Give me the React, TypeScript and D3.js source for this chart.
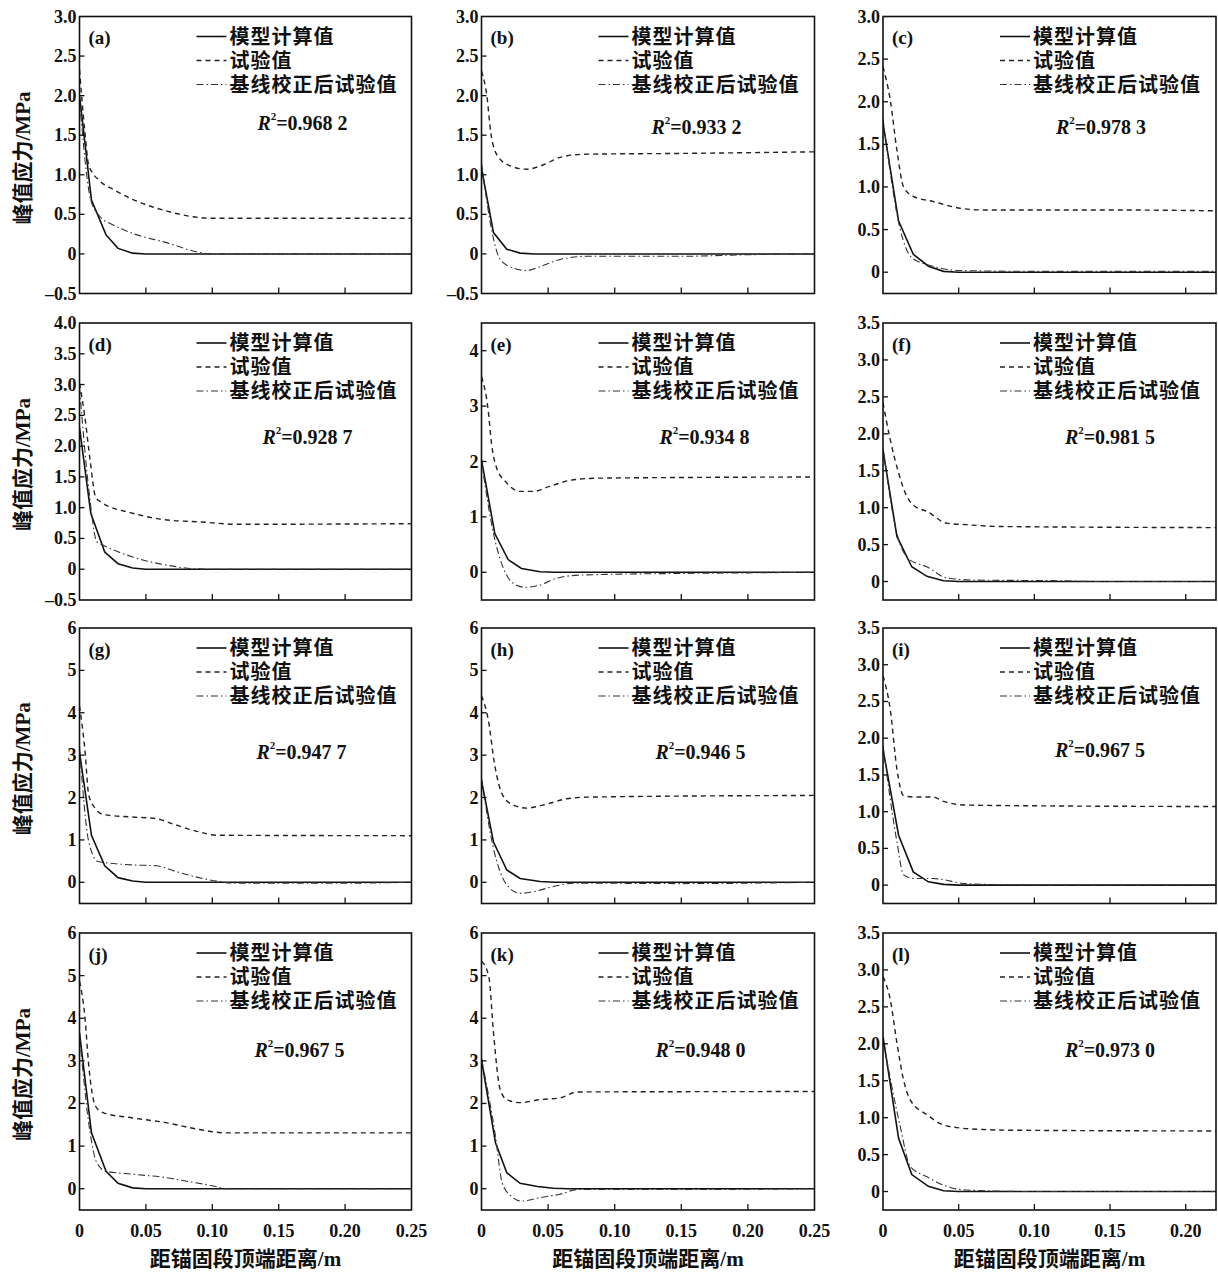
import React from "react";
import * as d3 from "d3";

// ---------- data ----------
const panelLabels = ["(a)", "(b)", "(c)", "(d)", "(e)", "(f)", "(g)", "(h)", "(i)", "(j)", "(k)", "(l)"];
const r2Values = ["0.968 2", "0.933 2", "0.978 3", "0.928 7", "0.934 8", "0.981 5", "0.947 7", "0.946 5", "0.967 5", "0.967 5", "0.948 0", "0.973 0"];
const legendLabels = ["模型计算值", "试验值", "基线校正后试验值"];
const xAxisTitle = "距锚固段顶端距离/m";
const yAxisTitle = "峰值应力/MPa";

const yDomains: [number, number][] = [
  [-0.5, 3], [-0.5, 3], [-0.25, 3],
  [-0.5, 4], [-0.5, 4.5], [-0.25, 3.5],
  [-0.5, 6], [-0.5, 6], [-0.25, 3.5],
  [-0.5, 6], [-0.5, 6], [-0.25, 3.5],
];
const yTicksHalf30 = [-0.5, 0, 0.5, 1, 1.5, 2, 2.5, 3];
const yTicksHalf30c = [0, 0.5, 1, 1.5, 2, 2.5, 3];
const yTicksHalf40 = [-0.5, 0, 0.5, 1, 1.5, 2, 2.5, 3, 3.5, 4];
const yTicksInt4 = [0, 1, 2, 3, 4];
const yTicksHalf35 = [0, 0.5, 1, 1.5, 2, 2.5, 3, 3.5];
const yTicksInt6 = [0, 1, 2, 3, 4, 5, 6];
const yTickSets = [
  yTicksHalf30, yTicksHalf30, yTicksHalf30c,
  yTicksHalf40, yTicksInt4, yTicksHalf35,
  yTicksInt6, yTicksInt6, yTicksHalf35,
  yTicksInt6, yTicksInt6, yTicksHalf35,
];
const xMaxByCol = [0.25, 0.25, 0.22];
const xTicksByCol = [
  [0, 0.05, 0.1, 0.15, 0.2, 0.25],
  [0, 0.05, 0.1, 0.15, 0.2, 0.25],
  [0, 0.05, 0.1, 0.15, 0.2],
];

const modelA = [[0, 2.0], [0.009, 0.68], [0.02, 0.24], [0.029, 0.07], [0.04, 0.01], [0.05, 0], [0.25, 0]];
const testA = [[0, 2.33], [0.004, 1.55], [0.007, 1.12], [0.0155, 0.92], [0.025, 0.82], [0.04, 0.69], [0.066, 0.54], [0.09, 0.46], [0.1, 0.45], [0.25, 0.45]];
const baseA = [[0, 1.95], [0.0085, 0.68], [0.0155, 0.47], [0.025, 0.37], [0.04, 0.26], [0.066, 0.14], [0.09, 0.02], [0.1, 0], [0.25, 0]];

const modelB = [[0, 1.08], [0.009, 0.27], [0.019, 0.06], [0.029, 0.01], [0.04, 0], [0.25, 0]];
const testB = [[0, 2.31], [0.004, 2.0], [0.007, 1.53], [0.012, 1.24], [0.022, 1.11], [0.034, 1.07], [0.047, 1.13], [0.059, 1.22], [0.077, 1.26], [0.15, 1.27], [0.25, 1.29]];
const baseB = [[0, 1.15], [0.008, 0.27], [0.014, -0.07], [0.024, -0.18], [0.034, -0.21], [0.044, -0.16], [0.059, -0.07], [0.079, -0.03], [0.15, -0.03], [0.2, -0.01], [0.25, 0]];

const modelC = [[0, 1.75], [0.0103, 0.6], [0.02, 0.21], [0.03, 0.07], [0.04, 0.01], [0.05, 0], [0.22, 0]];
const testC = [[0, 2.41], [0.0048, 2.02], [0.0092, 1.43], [0.0136, 1.0], [0.02, 0.89], [0.033, 0.83], [0.051, 0.75], [0.066, 0.73], [0.15, 0.73], [0.22, 0.72]];
const baseC = [[0, 1.8], [0.0114, 0.5], [0.019, 0.17], [0.033, 0.07], [0.051, 0.02], [0.1, 0.01], [0.22, 0.01]];

const modelD = [[0, 2.3], [0.0085, 0.91], [0.019, 0.28], [0.029, 0.09], [0.04, 0.02], [0.05, 0], [0.25, 0]];
const testD = [[0, 3.02], [0.004, 2.48], [0.008, 1.77], [0.012, 1.18], [0.0155, 1.1], [0.04, 0.91], [0.066, 0.8], [0.09, 0.77], [0.12, 0.73], [0.25, 0.74]];
const baseD = [[0, 2.95], [0.007, 1.3], [0.013, 0.45], [0.018, 0.39], [0.04, 0.2], [0.066, 0.065], [0.085, 0.01], [0.1, 0], [0.25, 0]];

const modelE = [[0, 2.03], [0.01, 0.7], [0.02, 0.23], [0.03, 0.07], [0.044, 0.01], [0.055, 0], [0.25, 0]];
const testE = [[0, 3.53], [0.005, 2.93], [0.0075, 2.33], [0.011, 1.91], [0.019, 1.61], [0.029, 1.46], [0.039, 1.46], [0.051, 1.55], [0.069, 1.67], [0.089, 1.7], [0.25, 1.72]];
const baseE = [[0, 2.0], [0.009, 0.7], [0.016, 0.1], [0.024, -0.2], [0.0325, -0.27], [0.044, -0.23], [0.056, -0.11], [0.074, -0.05], [0.15, -0.02], [0.2, -0.01], [0.25, 0]];

const modelF = [[0, 1.78], [0.0092, 0.61], [0.019, 0.2], [0.029, 0.07], [0.04, 0.01], [0.05, 0], [0.22, 0]];
const testF = [[0, 2.42], [0.0048, 1.92], [0.0103, 1.47], [0.0158, 1.15], [0.021, 1.02], [0.029, 0.95], [0.042, 0.79], [0.055, 0.77], [0.077, 0.745], [0.22, 0.73]];
const baseF = [[0, 1.8], [0.0092, 0.65], [0.018, 0.29], [0.029, 0.2], [0.042, 0.05], [0.06, 0.02], [0.12, 0.01], [0.14, 0], [0.22, 0]];

const modelG = [[0, 3.07], [0.009, 1.11], [0.019, 0.39], [0.029, 0.11], [0.04, 0.03], [0.05, 0], [0.25, 0]];
const testG = [[0, 4.16], [0.004, 3.15], [0.007, 2.05], [0.012, 1.74], [0.018, 1.6], [0.04, 1.54], [0.058, 1.5], [0.07, 1.38], [0.09, 1.19], [0.103, 1.11], [0.25, 1.1]];
const baseG = [[0, 3.2], [0.007, 0.95], [0.014, 0.49], [0.023, 0.45], [0.04, 0.41], [0.058, 0.39], [0.073, 0.25], [0.09, 0.11], [0.105, 0.02], [0.115, -0.02], [0.2, -0.02], [0.25, 0]];

const modelH = [[0, 2.4], [0.009, 0.95], [0.019, 0.29], [0.029, 0.09], [0.044, 0.02], [0.055, 0], [0.25, 0]];
const testH = [[0, 4.4], [0.005, 3.85], [0.01, 2.75], [0.016, 2.05], [0.024, 1.82], [0.034, 1.75], [0.046, 1.82], [0.064, 1.97], [0.079, 2.01], [0.25, 2.05]];
const baseH = [[0, 2.45], [0.009, 0.8], [0.019, -0.06], [0.029, -0.26], [0.039, -0.22], [0.054, -0.1], [0.069, -0.02], [0.15, -0.03], [0.25, 0]];

const modelI = [[0, 1.85], [0.0103, 0.68], [0.02, 0.18], [0.03, 0.045], [0.04, 0.01], [0.05, 0], [0.22, 0]];
const testI = [[0, 2.85], [0.0048, 2.39], [0.0092, 1.58], [0.0136, 1.22], [0.02, 1.2], [0.033, 1.2], [0.04, 1.14], [0.055, 1.09], [0.099, 1.08], [0.22, 1.07]];
const baseI = [[0, 1.9], [0.0092, 0.59], [0.0136, 0.14], [0.021, 0.09], [0.033, 0.09], [0.055, 0.02], [0.1, 0], [0.22, 0]];

const modelJ = [[0, 3.66], [0.009, 1.31], [0.02, 0.41], [0.029, 0.125], [0.04, 0.02], [0.05, 0], [0.25, 0]];
const testJ = [[0, 4.87], [0.004, 4.05], [0.007, 2.88], [0.012, 1.94], [0.018, 1.78], [0.04, 1.66], [0.065, 1.55], [0.09, 1.39], [0.11, 1.31], [0.25, 1.31]];
const baseJ = [[0, 3.6], [0.008, 1.31], [0.013, 0.61], [0.02, 0.41], [0.04, 0.34], [0.065, 0.26], [0.08, 0.18], [0.103, 0.05], [0.11, 0], [0.25, 0]];

const modelK = [[0, 3.03], [0.0105, 1.08], [0.019, 0.375], [0.029, 0.125], [0.042, 0.05], [0.054, 0.01], [0.065, 0], [0.25, 0]];
const testK = [[0, 5.34], [0.0055, 4.98], [0.009, 3.66], [0.014, 2.33], [0.019, 2.09], [0.029, 2.02], [0.044, 2.09], [0.059, 2.13], [0.072, 2.27], [0.25, 2.28]];
const baseK = [[0, 3.05], [0.0105, 1.23], [0.0155, 0.14], [0.022, -0.17], [0.03, -0.29], [0.044, -0.21], [0.059, -0.13], [0.072, -0.02], [0.15, -0.02], [0.25, 0]];

const modelL = [[0, 2.1], [0.0103, 0.72], [0.019, 0.23], [0.03, 0.07], [0.04, 0.01], [0.05, 0], [0.22, 0]];
const testL = [[0, 2.91], [0.0048, 2.6], [0.0092, 2.01], [0.0136, 1.51], [0.018, 1.24], [0.029, 1.04], [0.04, 0.9], [0.051, 0.86], [0.066, 0.84], [0.086, 0.83], [0.22, 0.82]];
const baseL = [[0, 2.05], [0.0114, 0.88], [0.018, 0.34], [0.029, 0.2], [0.042, 0.07], [0.055, 0.02], [0.1, 0], [0.22, 0]];

const modelSeries = [modelA, modelB, modelC, modelD, modelE, modelF, modelG, modelH, modelI, modelJ, modelK, modelL];
const testSeries = [testA, testB, testC, testD, testE, testF, testG, testH, testI, testJ, testK, testL];
const baseSeries = [baseA, baseB, baseC, baseD, baseE, baseF, baseG, baseH, baseI, baseJ, baseK, baseL];

// ---------- layout ----------
const W = 1218;
const H = 1275;
const colLeft = [79.5, 481.5, 883];
const colRight = [411.5, 814.5, 1216];
const rowTop = [16.5, 323, 628, 933];
const rowBottom = [293.5, 600, 903.5, 1210];
const r2OffsetY = [106, 110, 110, 114, 114, 114, 124, 124, 122, 117, 117, 117];
const r2OffsetX = [223, 215, 218, 228, 223, 227, 222, 219, 217, 220, 219, 227];

const NUM_FONT = "'Liberation Serif', 'Times New Roman', serif";
const MIX_FONT = "'Liberation Serif', 'Noto Sans CJK SC', serif";

const styles = {
  model: { dash: undefined as string | undefined, width: 1.6, color: "#111" },
  test: { dash: "5,4", width: 1.4, color: "#222" },
  base: { dash: "7,3,1.5,3", width: 1.1, color: "#333" },
};

function fmtY(v: number, intTicks: boolean) {
  if (v === 0) return "0";
  const s = intTicks ? String(Math.abs(v)) : Math.abs(v).toFixed(1);
  return (v < 0 ? "–" : "") + s;
}
function fmtX(v: number) {
  if (v === 0) return "0";
  return v.toFixed(2);
}

function Panel({ idx }: { idx: number }) {
  const row = Math.floor(idx / 3);
  const col = idx % 3;
  const L = colLeft[col];
  const R = colRight[col];
  const T = rowTop[row];
  const B = rowBottom[row];
  const x = d3.scaleLinear().domain([0, xMaxByCol[col]]).range([L, R]);
  const intTicks = yTickSets[idx].every((t) => Number.isInteger(t));
  const y = d3.scaleLinear().domain(yDomains[idx]).range([B, T]);
  const line = d3
    .line<number[]>()
    .x((d) => x(d[0]))
    .y((d) => y(d[1]))
    .curve(d3.curveMonotoneX);
  const lineLin = d3
    .line<number[]>()
    .x((d) => x(d[0]))
    .y((d) => y(d[1]));
  const clipId = `clip-${idx}`;
  const isBottom = row === 3;
  const legendYs = [T + 20, T + 44, T + 68];
  const seriesStyles = [styles.model, styles.test, styles.base];

  return (
    <g>
      <defs>
        <clipPath id={clipId}>
          <rect x={L} y={T} width={R - L} height={B - T} />
        </clipPath>
      </defs>
      <g clipPath={`url(#${clipId})`}>
        <path d={lineLin(modelSeries[idx]) || ""} fill="none" stroke={styles.model.color} strokeWidth={styles.model.width} />
        <path d={line(testSeries[idx]) || ""} fill="none" stroke={styles.test.color} strokeWidth={styles.test.width} strokeDasharray={styles.test.dash} />
        <path d={line(baseSeries[idx]) || ""} fill="none" stroke={styles.base.color} strokeWidth={styles.base.width} strokeDasharray={styles.base.dash} />
      </g>
      <rect x={L} y={T} width={R - L} height={B - T} fill="none" stroke="#111" strokeWidth={1.6} />
      {yTickSets[idx].map((t) => (
        <g key={`yt${t}`}>
          {y(t) > T + 1 && y(t) < B - 1 && (
            <line x1={L} x2={L + 5} y1={y(t)} y2={y(t)} stroke="#111" strokeWidth={1.3} />
          )}
          <text x={L - 3} y={y(t)} textAnchor="end" dominantBaseline="central" fontFamily={NUM_FONT} fontWeight="bold" fontSize={18} fill="#111">
            {fmtY(t, intTicks)}
          </text>
        </g>
      ))}
      {xTicksByCol[col].map((t) => (
        <g key={`xt${t}`}>
          {x(t) > L + 1 && x(t) < R - 1 && (
            <line x1={x(t)} x2={x(t)} y1={B} y2={B - 6} stroke="#111" strokeWidth={1.3} />
          )}
          {isBottom && (
            <text x={x(t)} y={B + 21} textAnchor="middle" dominantBaseline="central" fontFamily={NUM_FONT} fontWeight="bold" fontSize={18} fill="#111">
              {fmtX(t)}
            </text>
          )}
        </g>
      ))}
      <text x={L + 9} y={T + 21} dominantBaseline="central" fontFamily={NUM_FONT} fontWeight="bold" fontSize={19} fill="#111">
        {panelLabels[idx]}
      </text>
      {legendLabels.map((lab, i) => (
        <g key={`lg${i}`}>
          <line
            x1={L + 117}
            x2={L + 147}
            y1={legendYs[i]}
            y2={legendYs[i]}
            stroke={seriesStyles[i].color}
            strokeWidth={seriesStyles[i].width}
            strokeDasharray={seriesStyles[i].dash}
          />
          <text x={L + 150} y={legendYs[i]} dominantBaseline="central" fontFamily={MIX_FONT} fontWeight="bold" fontSize={20} letterSpacing={1} fill="#111">
            {lab}
          </text>
        </g>
      ))}
      <text x={L + r2OffsetX[idx]} y={T + r2OffsetY[idx]} textAnchor="middle" dominantBaseline="central" fontFamily={NUM_FONT} fontWeight="bold" fontSize={20} fill="#111">
        <tspan fontStyle="italic">R</tspan>
        <tspan fontSize={11} dy={-7}>2</tspan>
        <tspan dy={7}>{"=" + r2Values[idx]}</tspan>
      </text>
      {col === 0 && (
        <text
          transform={`translate(22.5, ${(T + B) / 2 + 3}) rotate(-90)`}
          textAnchor="middle"
          dominantBaseline="central"
          fontFamily={MIX_FONT}
          fontWeight="bold"
          fontSize={21}
          fill="#111"
        >
          {yAxisTitle}
        </text>
      )}
      {isBottom && (
        <text x={(L + R) / 2} y={1259} textAnchor="middle" dominantBaseline="central" fontFamily={MIX_FONT} fontWeight="bold" fontSize={21} fill="#111">
          {xAxisTitle}
        </text>
      )}
    </g>
  );
}

export default function App() {
  return (
    <svg width={W} height={H} style={{ position: "absolute", left: 0, top: 0, background: "#fff" }}>
      <rect x={0} y={0} width={W} height={H} fill="#fff" />
      {panelLabels.map((_, i) => (
        <Panel key={i} idx={i} />
      ))}
    </svg>
  );
}
